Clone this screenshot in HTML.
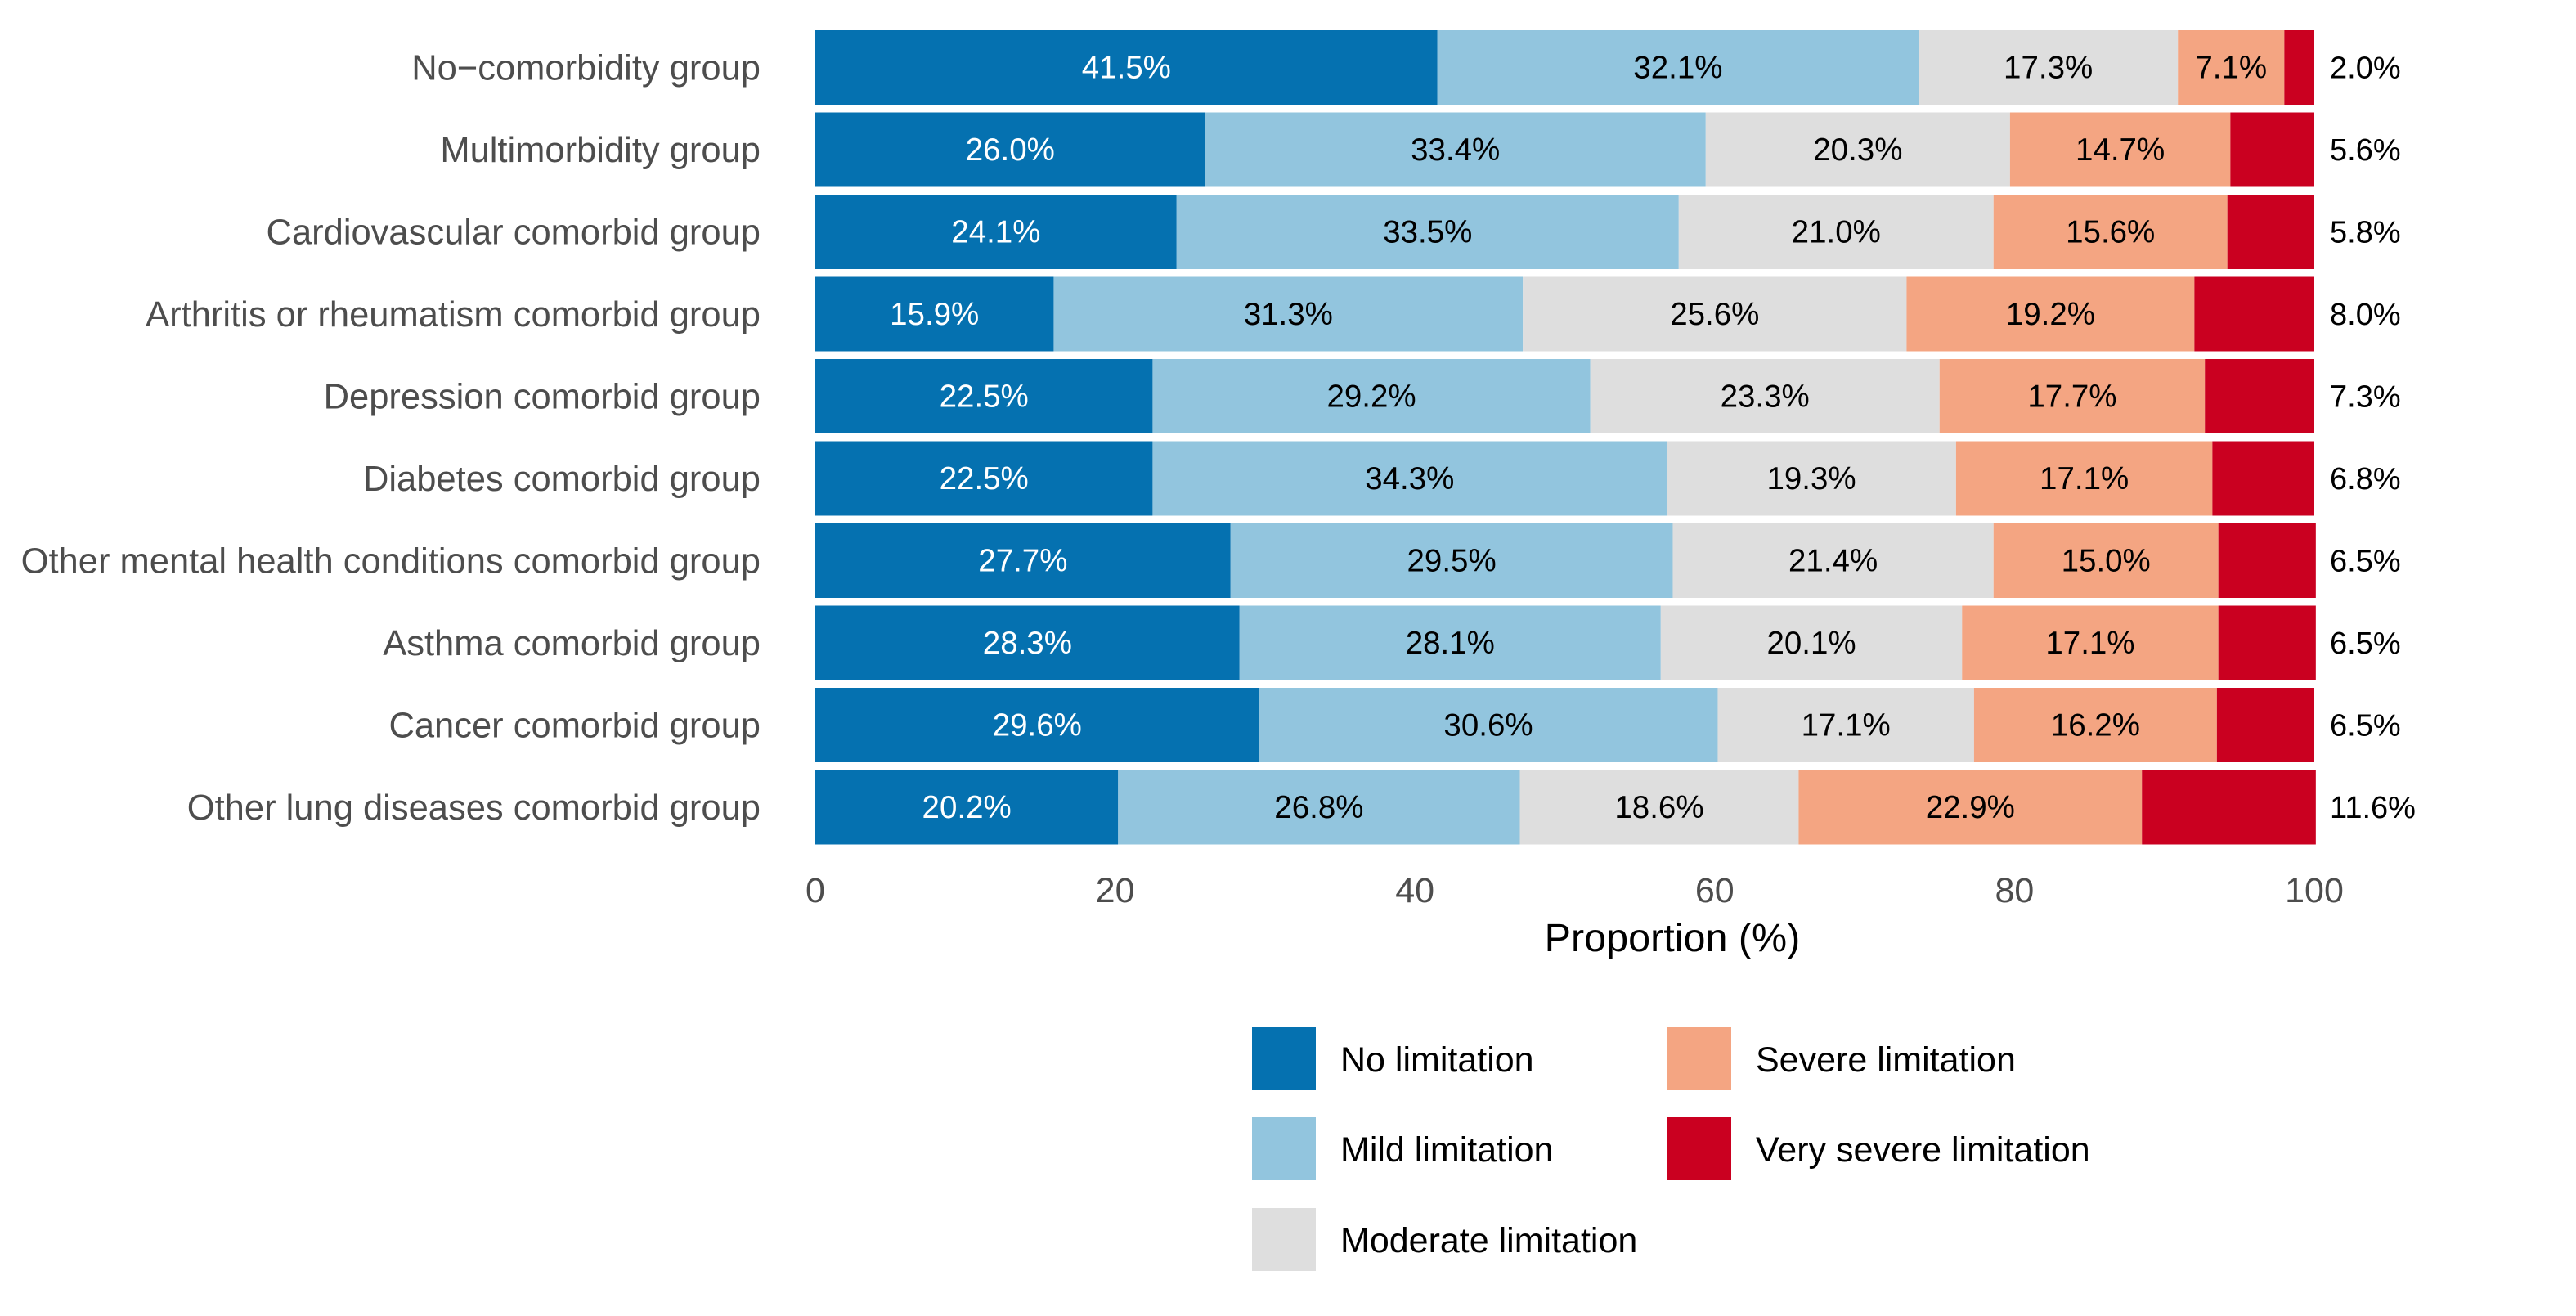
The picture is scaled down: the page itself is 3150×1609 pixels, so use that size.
<!DOCTYPE html>
<html><head><meta charset="utf-8"><style>
body{margin:0;background:#fff}
svg{display:block}
text{font-family:"Liberation Sans",Arial,sans-serif}
</style></head><body>
<svg id="chart" width="3150" height="1609" viewBox="0 0 3150 1609" xmlns="http://www.w3.org/2000/svg">
<rect width="3150" height="1609" fill="#fff"/>
<g id="bars"></g>
<g id="axis"></g>
<g id="legend"></g>
</svg>
<script>
const categories = ["No\u2212comorbidity group","Multimorbidity group","Cardiovascular comorbid group","Arthritis or rheumatism comorbid group","Depression comorbid group","Diabetes comorbid group","Other mental health conditions comorbid group","Asthma comorbid group","Cancer comorbid group","Other lung diseases comorbid group"];
const seriesNames = ["No limitation","Mild limitation","Moderate limitation","Severe limitation","Very severe limitation"];
const noLimitation = [41.5,26.0,24.1,15.9,22.5,22.5,27.7,28.3,29.6,20.2];
const mildLimitation = [32.1,33.4,33.5,31.3,29.2,34.3,29.5,28.1,30.6,26.8];
const moderateLimitation = [17.3,20.3,21.0,25.6,23.3,19.3,21.4,20.1,17.1,18.6];
const severeLimitation = [7.1,14.7,15.6,19.2,17.7,17.1,15.0,17.1,16.2,22.9];
const verySevereLimitation = [2.0,5.6,5.8,8.0,7.3,6.8,6.5,6.5,6.5,11.6];
const xTicks = [0,20,40,60,80,100];

const series = [noLimitation,mildLimitation,moderateLimitation,severeLimitation,verySevereLimitation];
const colors = ["#0571b0","#92c5de","#dedede","#f4a582","#ca0020"];
const NS = "http://www.w3.org/2000/svg";
const X0 = 997, X1 = 2830;
const x = v => X0 + (X1 - X0) * v / 100;
const TOP = 37, PITCH = 100.5, BH = 91;
const y = i => TOP + i * PITCH;
function mk(tag, attrs, parent, txt){
  const e = document.createElementNS(NS, tag);
  for (const k in attrs) e.setAttribute(k, attrs[k]);
  if (txt !== undefined) e.textContent = txt;
  parent.appendChild(e); return e;
}
const gb = document.getElementById('bars');
categories.forEach((c, i) => {
  const lab = mk('text', {x: 930, y: y(i) + BH/2 + 15, 'text-anchor': 'end', 'font-size': 43.5, fill: '#4d4d4d'}, gb, c);
  
  
  let cum = 0;
  series.forEach((s, k) => {
    const v = s[i];
    const r = mk('rect', {x: x(cum), y: y(i), width: x(cum + v) - x(cum), height: BH, fill: colors[k]}, gb);
    
    
    if (k < 4) {
      const t = mk('text', {x: x(cum + v/2), y: y(i) + BH/2 + 13, 'text-anchor': 'middle', 'font-size': 38.5, fill: k === 0 ? '#fff' : '#000'}, gb, v.toFixed(1) + '%');
      
      
    } else {
      const t = mk('text', {x: 2849, y: y(i) + BH/2 + 13, 'text-anchor': 'start', 'font-size': 38, fill: '#000'}, gb, v.toFixed(1) + '%');
      
      
    }
    cum += v;
  });
});
const ga = document.getElementById('axis');
xTicks.forEach(v => {
  const t = mk('text', {x: x(v), y: 1103, 'text-anchor': 'middle', 'font-size': 43, fill: '#4d4d4d'}, ga, String(v));
  
  
});
const at = mk('text', {x: 2045, y: 1163, 'text-anchor': 'middle', 'font-size': 48.5, fill: '#000'}, ga, 'Proportion (%)');


const gl = document.getElementById('legend');
const legPos = [[1531,1256],[1531,1366],[1531,1477],[2039,1256],[2039,1366]];
seriesNames.forEach((n, k) => {
  const [lx, ly] = legPos[k];
  const r = mk('rect', {x: lx, y: ly, width: 78, height: 77, fill: colors[k]}, gl);
  
  
  const t = mk('text', {x: lx + 108, y: ly + 54, 'font-size': 43, fill: '#000'}, gl, n);
  
  
});
</script>
</body></html>
